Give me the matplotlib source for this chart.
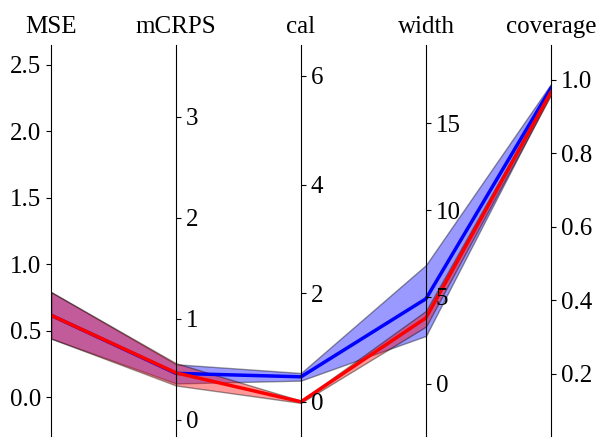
import matplotlib.pyplot as plt
from matplotlib.ticker import MultipleLocator
import numpy as np

plt.rcParams['font.family'] = 'serif'
plt.rcParams['font.serif'] = ['Liberation Serif', 'DejaVu Serif']

metrics = ["MSE", "mCRPS", "cal", "width", "coverage"]
axis_lo = [-0.293, -0.16, -0.63, -3.0, 0.03]
axis_hi = [2.647, 3.71, 6.57, 19.5, 1.094]
tick_steps = [0.5, 1, 2, 5, 0.2]

blue_mean = [0.615, 0.46, 0.46, 4.9, 0.977]
blue_lo = [0.44, 0.36, 0.39, 2.76, 0.962]
blue_hi = [0.79, 0.55, 0.53, 6.84, 0.988]

red_mean = [0.615, 0.465, 0.0, 3.8, 0.966]
red_lo = [0.44, 0.34, -0.02, 3.3, 0.958]
red_hi = [0.79, 0.56, 0.02, 4.2, 0.973]

lo = np.array(axis_lo)
hi = np.array(axis_hi)


def to_host(vals):
    # map every column onto the scale of the first (host) axis
    v = np.array(vals)
    return (v - lo) / (hi - lo) * (hi[0] - lo[0]) + lo[0]


fig, host = plt.subplots(figsize=(6.05, 4.46), dpi=100)
plt.subplots_adjust(left=51 / 605, right=551 / 605, top=1 - 45 / 446, bottom=1 - 436 / 446)

n = len(metrics)
axes = [host] + [host.twinx() for i in range(n - 1)]
for i, ax in enumerate(axes):
    ax.set_ylim(axis_lo[i], axis_hi[i])
    ax.yaxis.set_major_locator(MultipleLocator(tick_steps[i]))
    ax.spines['top'].set_visible(False)
    ax.spines['bottom'].set_visible(False)
    ax.tick_params(axis='y', labelsize=18)
    if ax != host:
        ax.spines['left'].set_visible(False)
        ax.yaxis.set_ticks_position('right')
        ax.spines['right'].set_position(('axes', i / (n - 1)))

host.spines['right'].set_visible(False)
host.set_xlim(0, n - 1)
host.set_xticks(range(n))
host.set_xticklabels(metrics, fontsize=18)
host.tick_params(axis='x', which='major', pad=5, length=0)
host.xaxis.tick_top()

x = np.arange(n)
for mean, low, high, col in [(blue_mean, blue_lo, blue_hi, 'blue'),
                             (red_mean, red_lo, red_hi, 'red')]:
    host.fill_between(x, to_host(low), to_host(high), facecolor=col,
                      edgecolor='k', alpha=0.4, linewidth=1)
    host.plot(x, to_host(mean), color=col, linewidth=2.5)

plt.savefig('out.png', dpi=100)
